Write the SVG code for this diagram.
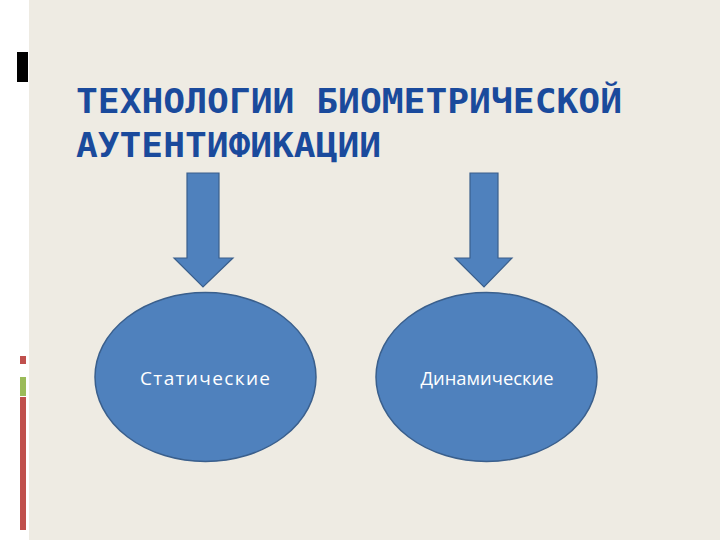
<svg xmlns="http://www.w3.org/2000/svg" width="720" height="540" viewBox="0 0 720 540">
<style>
.title{font-family:"DejaVu Sans Mono","Liberation Mono",monospace;font-weight:bold;font-size:34px;fill:#1a4a9c}
.lbl{font-family:"Open Sans","Liberation Sans",sans-serif;font-size:19px;fill:#ffffff}
.node{fill:#4f81bd;stroke:#3a5f8c;stroke-width:1.5}
.arrow{fill:#4f81bd;stroke:#3a5f8c;stroke-width:1.2}
</style>
<rect x="0" y="0" width="720" height="540" fill="#ffffff"/>
<rect x="29" y="0" width="691" height="540" fill="#eeebe3"/>
<rect x="17" y="52" width="11" height="30" fill="#000000"/>
<rect x="20" y="356" width="6" height="8" fill="#c0504d"/>
<rect x="20" y="377" width="6" height="19" fill="#9bbb59"/>
<rect x="20" y="397" width="6" height="133" fill="#c0504d"/>
<text class="title" x="76" y="113" textLength="546" lengthAdjust="spacingAndGlyphs">ТЕХНОЛОГИИ БИОМЕТРИЧЕСКОЙ</text>
<text class="title" x="76" y="157" textLength="305" lengthAdjust="spacingAndGlyphs">АУТЕНТИФИКАЦИИ</text>
<g id="connectors">
<polygon class="arrow" points="187,173 219,173 219,258 233,258 203,287 174,258 187,258"/>
<polygon class="arrow" points="470,173 498,173 498,258 512,258 484,287 455,258 470,258"/>
</g>
<g id="static">
<ellipse class="node" cx="205.5" cy="377" rx="110.5" ry="84.5"/>
<text class="lbl" x="205" y="385" text-anchor="middle" textLength="130" lengthAdjust="spacing">Статические</text>
</g>
<g id="dynamic">
<ellipse class="node" cx="486.5" cy="377" rx="110.5" ry="84.5"/>
<text class="lbl" x="487" y="385" text-anchor="middle" textLength="133" lengthAdjust="spacingAndGlyphs">Динамические</text>
</g>
</svg>
